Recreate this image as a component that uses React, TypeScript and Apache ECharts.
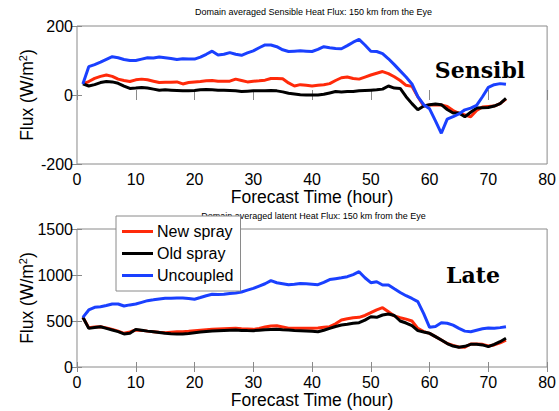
import React, { useEffect, useRef } from "react";
import * as echarts from "echarts";

const HOURS = [1,2,3,4,5,6,7,8,9,10,11,12,13,14,15,16,17,18,19,20,21,22,23,24,25,26,27,28,29,30,31,32,33,34,35,36,37,38,39,40,41,42,43,44,45,46,47,48,49,50,51,52,53,54,55,56,57,58,59,60,61,62,63,64,65,66,67,68,69,70,71,72,73];

const SERIES_NAMES = ["New spray", "Old spray", "Uncoupled"];
const X_TICKS = [0, 80, 10];
const SENS_Y_TICKS = [-200, 200, 200];
const LAT_Y_TICKS = [0, 1500, 500];

const SENS_NEW = [32,39,48,54,58,54,46,42,39,44,
46,44,40,36,37,37,38,32,36,38,
39,41,42,40,40,40,46,42,38,40,
41,43,48,48,47,35,26,30,28,26,
28,30,33,42,50,52,48,46,52,58,
63,68,62,53,42,28,25,-5,-32,-29,
-28,-29,-33,-45,-53,-58,-63,-45,-35,-33,
-32,-25,-12];

const SENS_OLD = [32,26,30,36,39,38,34,26,19,20,
22,20,17,14,15,14,13,12,12,13,
15,16,15,14,14,13,12,10,11,12,
12,12,13,12,9,5,3,1,0,0,
0,2,6,10,9,10,10,12,13,14,
15,17,26,20,19,-5,-25,-43,-32,-28,
-26,-28,-42,-52,-52,-63,-50,-38,-37,-36,
-32,-25,-10];

const SENS_UNC = [32,82,88,95,103,111,108,103,100,100,
104,108,107,110,108,106,103,105,104,104,
110,118,127,116,118,123,118,115,122,128,
137,145,145,140,131,126,127,128,127,126,
132,140,137,135,134,143,153,161,145,127,
126,120,105,88,70,52,32,-5,-28,-40,
-75,-111,-70,-63,-55,-43,-38,-30,-5,22,
30,33,31];

const LAT_NEW = [540,427,435,438,425,409,390,366,380,402,
398,390,384,378,373,378,382,384,388,395,
400,405,409,412,415,418,420,415,412,409,
420,435,445,448,435,422,420,420,420,420,
425,432,438,470,511,525,535,540,560,590,
620,645,600,555,535,520,500,420,385,366,
330,293,255,235,218,214,250,250,246,228,
240,262,293];

const LAT_OLD = [540,420,430,438,420,402,385,359,366,409,
400,390,384,375,366,362,360,359,365,373,
380,386,391,395,398,400,402,398,396,395,
400,405,408,409,405,402,398,395,392,388,
384,400,420,440,457,465,475,482,510,547,
540,565,576,560,500,478,450,395,380,366,
330,293,255,228,214,225,246,246,240,221,
245,275,312];

const LAT_UNC = [540,620,649,655,668,685,685,663,675,685,
703,721,730,740,747,748,750,750,745,736,
755,775,790,788,790,800,805,815,835,855,
880,905,938,916,905,893,900,908,905,900,
895,920,950,960,970,982,1005,1036,970,916,
927,891,891,850,810,775,745,710,580,431,
440,480,475,455,420,390,384,400,415,425,
420,428,438];

const COLORS = ["#ff2a0a", "#000000", "#1a40ff"];
const FONT = "Liberation Sans";
const GRAY = "#8a8a8a";

function pairs(v: number[]) {
  return HOURS.map((h, i) => [h, v[i]]);
}

export default function App() {
  const ref = useRef<HTMLDivElement>(null);
  useEffect(() => {
    if (!ref.current) return;
    const chart = echarts.init(ref.current, null, { renderer: "svg" });

    const mkX = (gridIndex: number, pos: "bottom" | "top") => ({
      gridIndex,
      type: "value",
      position: pos,
      min: X_TICKS[0],
      max: X_TICKS[1],
      interval: X_TICKS[2],
      axisLine: { show: false },
      axisTick: { show: true, inside: true, length: 5, lineStyle: { color: GRAY } },
      splitLine: { show: false },
      axisLabel: pos === "bottom"
        ? { show: true, fontSize: 16, fontFamily: FONT, color: "#000", margin: 7, formatter: (v: number) => String(v) }
        : { show: false },
      name: pos === "bottom" ? "Forecast Time (hour)" : "",
      nameLocation: "middle",
      nameGap: 24,
      nameMoveOverlap: false,
      nameTextStyle: { fontSize: 17.5, fontFamily: FONT, color: "#000" },
    });

    const mkY = (gridIndex: number, pos: "left" | "right", t: number[]) => ({
      gridIndex,
      type: "value",
      position: pos,
      min: t[0],
      max: t[1],
      interval: t[2],
      axisLine: { show: false },
      axisTick: { show: true, inside: true, length: 5, lineStyle: { color: GRAY } },
      splitLine: { show: false },
      axisLabel: pos === "left"
        ? { show: true, fontSize: 16, fontFamily: FONT, color: "#000", margin: 4, formatter: (v: number) => String(v) }
        : { show: false },
      name: pos === "left" ? "Flux (W/m{sup|2})" : "",
      nameLocation: "middle",
      nameGap: 40,
      nameRotate: 90,
      nameMoveOverlap: false,
      nameTextStyle: {
        fontSize: 17.5,
        fontFamily: FONT,
        color: "#000",
        rich: { sup: { fontSize: 11, fontFamily: FONT, color: "#000", verticalAlign: "top", padding: [0, 0, 9, 0] } },
      },
    });

    const mkSeries = (name: string, data: number[], idx: number, axisIdx: number) => ({
      name,
      type: "line",
      xAxisIndex: axisIdx,
      yAxisIndex: axisIdx,
      data: pairs(data),
      showSymbol: false,
      symbol: "none",
      lineStyle: { width: 3, color: COLORS[idx] },
      itemStyle: { color: COLORS[idx] },
      z: 2 + idx,
    });

    chart.setOption({
      animation: false,
      backgroundColor: "#fff",
      grid: [
        { left: 77, top: 26, width: 473, height: 138, show: true, borderColor: GRAY, borderWidth: 1, backgroundColor: "transparent" },
        { left: 77, top: 229, width: 473, height: 138, show: true, borderColor: GRAY, borderWidth: 1, backgroundColor: "transparent" },
      ],
      xAxis: [mkX(0, "bottom"), mkX(0, "top"), mkX(1, "bottom"), mkX(1, "top")],
      yAxis: [
        mkY(0, "left", SENS_Y_TICKS),
        mkY(0, "right", SENS_Y_TICKS),
        mkY(1, "left", LAT_Y_TICKS),
        mkY(1, "right", LAT_Y_TICKS),
      ],
      legend: {
        show: true,
        left: 116,
        top: 216,
        orient: "vertical",
        data: SERIES_NAMES.map((n, i) => ({ name: n, itemStyle: { color: COLORS[i] } })),
        icon: "rect",
        itemWidth: 31,
        itemHeight: 3,
        itemGap: 5,
        padding: [7, 7, 7, 6],
        backgroundColor: "#fff",
        borderColor: GRAY,
        borderWidth: 1,
        borderRadius: 0,
        textStyle: { fontSize: 16, fontFamily: FONT, color: "#000", padding: [0, 0, 0, -1], lineHeight: 17 },
        z: 20,
      },
      graphic: [
        {
          type: "text",
          x: 313.5,
          y: 12,
          z: 1,
          style: {
            text: "Domain averaged Sensible Heat Flux: 150 km from the Eye",
            fontSize: 9,
            fontFamily: FONT,
            fill: "#000",
            textAlign: "center",
            textVerticalAlign: "middle",
          },
        },
        {
          type: "text",
          x: 313.5,
          y: 216,
          z: 1,
          style: {
            text: "Domain averaged latent Heat Flux: 150 km from the Eye",
            fontSize: 9,
            fontFamily: FONT,
            fill: "#000",
            textAlign: "center",
            textVerticalAlign: "middle",
          },
        },
        {
          type: "text",
          x: 480,
          y: 70,
          z: 10,
          style: {
            text: "Sensibl",
            fontSize: 22,
            fontWeight: "bold",
            fontFamily: "DejaVu Serif",
            fill: "#000",
            textAlign: "center",
            textVerticalAlign: "middle",
          },
        },
        {
          type: "text",
          x: 473,
          y: 275,
          z: 10,
          style: {
            text: "Late",
            fontSize: 22,
            fontWeight: "bold",
            fontFamily: "DejaVu Serif",
            fill: "#000",
            textAlign: "center",
            textVerticalAlign: "middle",
          },
        },
      ],
      series: [
        mkSeries(SERIES_NAMES[0], SENS_NEW, 0, 0),
        mkSeries(SERIES_NAMES[1], SENS_OLD, 1, 0),
        mkSeries(SERIES_NAMES[2], SENS_UNC, 2, 0),
        mkSeries(SERIES_NAMES[0], LAT_NEW, 0, 2),
        mkSeries(SERIES_NAMES[1], LAT_OLD, 1, 2),
        mkSeries(SERIES_NAMES[2], LAT_UNC, 2, 2),
      ],
    });
    return () => chart.dispose();
  }, []);

  return (
    <div
      ref={ref}
      style={{ position: "fixed", left: 0, top: 0, width: 559, height: 411, background: "#fff" }}
    />
  );
}
